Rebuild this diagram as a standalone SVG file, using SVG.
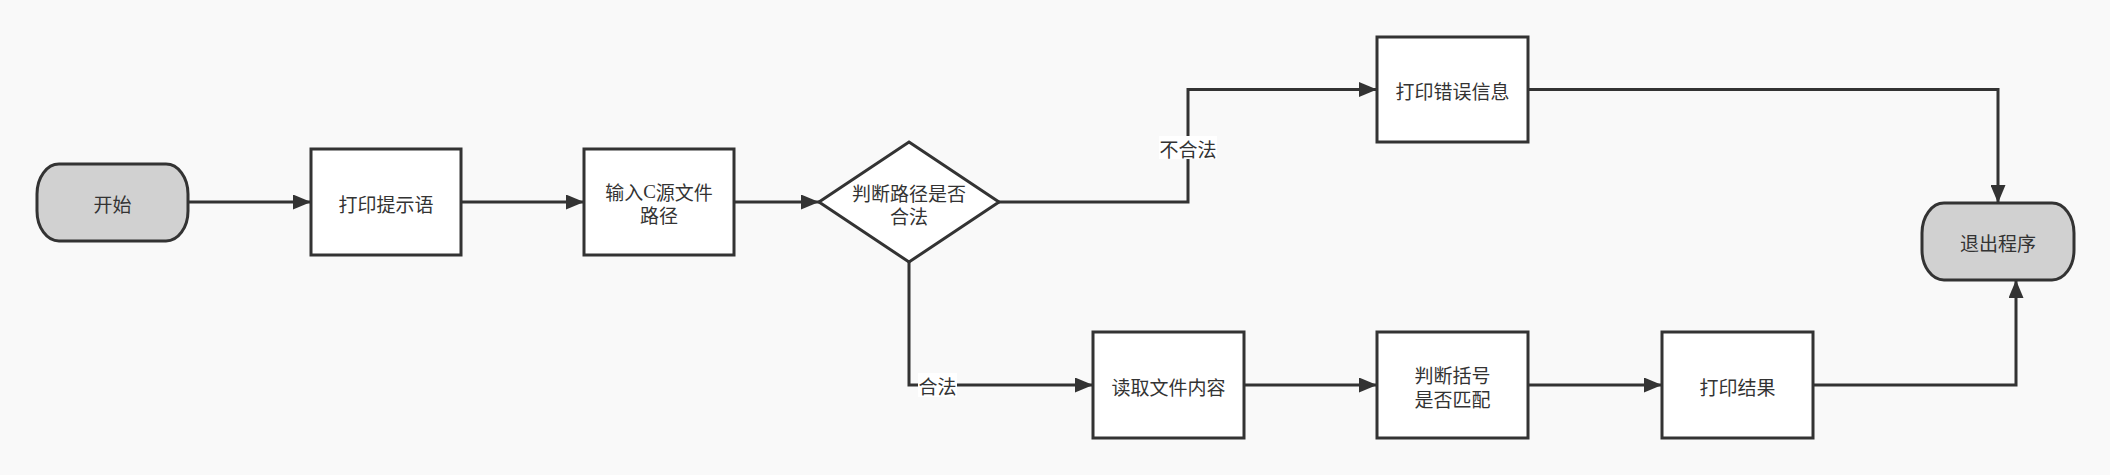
<svg xmlns="http://www.w3.org/2000/svg" width="2110" height="475" viewBox="0 0 2110 475">
<style>
.bg{fill:#f9f9f9}
.box{fill:#ffffff;stroke:#333333;stroke-width:3}
.term{fill:#d1d1d1;stroke:#333333;stroke-width:3}
.t{font-family:"Noto Sans CJK SC","Noto Sans",sans-serif;font-size:19px;fill:#333333;text-anchor:middle;dominant-baseline:central}
.lat{font-family:"Liberation Serif",serif}
.edge{fill:none;stroke:#333333;stroke-width:3}
.lblbg{fill:#ffffff}
</style>
<defs>
<marker id="arr" markerUnits="userSpaceOnUse" markerWidth="18" markerHeight="15" refX="18" refY="7.5" orient="auto">
<path d="M0,0 L18,7.5 L0,15 Z" fill="#333333"/>
</marker>
</defs>
<rect class="bg" x="0" y="0" width="2110" height="475"/>
<g id="connectors">
<path class="edge" d="M188,202 H311" marker-end="url(#arr)"/>
<path class="edge" d="M461,202 H584" marker-end="url(#arr)"/>
<path class="edge" d="M734,202 H819" marker-end="url(#arr)"/>
<path class="edge" d="M999,202 H1188 V89.5 H1377" marker-end="url(#arr)"/>
<path class="edge" d="M909,262 V385 H1093" marker-end="url(#arr)"/>
<path class="edge" d="M1244,385 H1377" marker-end="url(#arr)"/>
<path class="edge" d="M1528,385 H1662" marker-end="url(#arr)"/>
<path class="edge" d="M1528,89.5 H1998 V203" marker-end="url(#arr)"/>
<path class="edge" d="M1813,385 H2016 V280" marker-end="url(#arr)"/>
<g id="label-illegal">
<rect class="lblbg" x="1159" y="136" width="58" height="23"/>
<text class="t" x="1188" y="148">不合法</text>
</g>
<g id="label-legal">
<rect class="lblbg" x="918" y="373" width="39" height="24"/>
<text class="t" x="937.5" y="385.5">合法</text>
</g>
</g>
<g id="start">
<rect class="term" x="37" y="164" width="151" height="77" rx="22" ry="30"/>
<text class="t" x="112.5" y="203">开始</text>
</g>
<g id="printPrompt">
<rect class="box" x="311" y="149" width="150" height="106"/>
<text class="t" x="386" y="203">打印提示语</text>
</g>
<g id="inputPath">
<rect class="box" x="584" y="149" width="150" height="106"/>
<text class="t" x="659" y="191">输入<tspan class="lat">C</tspan>源文件</text>
<text class="t" x="659" y="214.5">路径</text>
</g>
<g id="checkPath">
<polygon class="box" points="909,142 999,202 909,262 819,202"/>
<text class="t" x="909" y="192">判断路径是否</text>
<text class="t" x="909" y="215.5">合法</text>
</g>
<g id="printError">
<rect class="box" x="1377" y="37" width="151" height="105"/>
<text class="t" x="1452.5" y="90.5">打印错误信息</text>
</g>
<g id="exit">
<rect class="term" x="1922" y="203" width="152" height="77" rx="22" ry="30"/>
<text class="t" x="1998" y="242">退出程序</text>
</g>
<g id="readFile">
<rect class="box" x="1093" y="332" width="151" height="106"/>
<text class="t" x="1168.5" y="386">读取文件内容</text>
</g>
<g id="checkBrackets">
<rect class="box" x="1377" y="332" width="151" height="106"/>
<text class="t" x="1452.5" y="374.5">判断括号</text>
<text class="t" x="1452.5" y="398.5">是否匹配</text>
</g>
<g id="printResult">
<rect class="box" x="1662" y="332" width="151" height="106"/>
<text class="t" x="1737.5" y="386">打印结果</text>
</g>
</svg>
